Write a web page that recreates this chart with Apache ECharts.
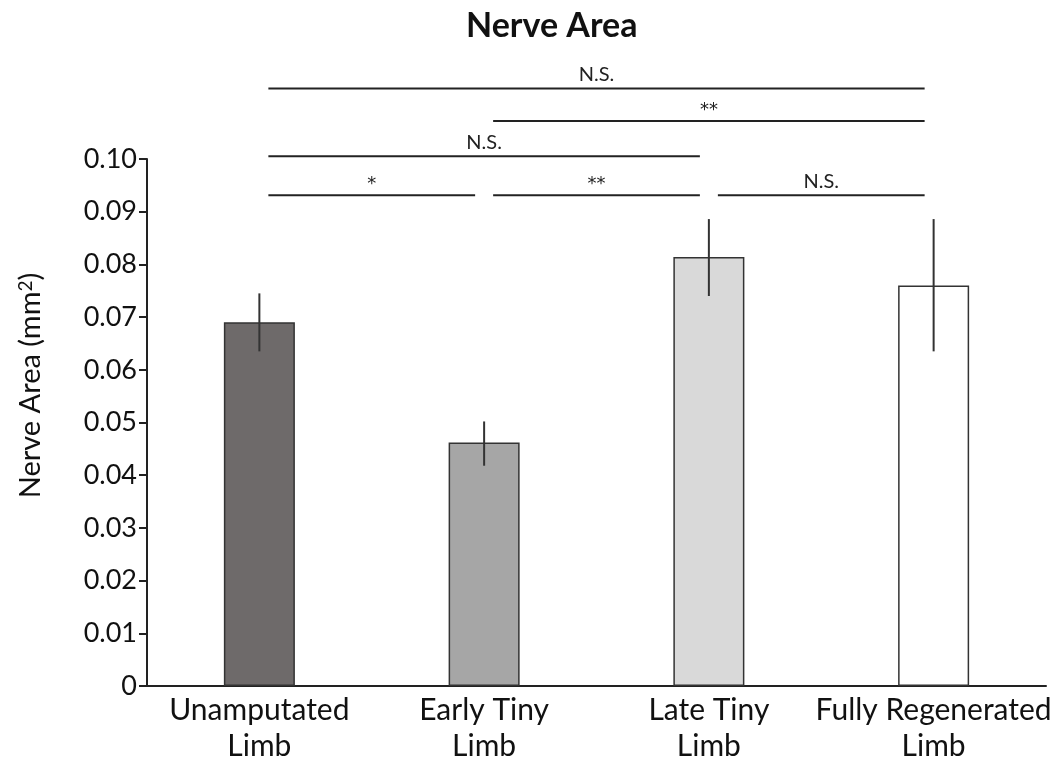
<!DOCTYPE html>
<html>
<head>
<meta charset="utf-8">
<script src="https://cdn.jsdelivr.net/npm/echarts@6/dist/echarts.min.js"></script>
<style>html,body{margin:0;padding:0;background:#fff;}#c{width:1059px;height:766px;}</style>
</head>
<body>
<div id="c"></div>
<script>
const categories = ['Unamputated\nLimb', 'Early Tiny\nLimb', 'Late Tiny\nLimb', 'Fully Regenerated\nLimb'];
const means = [0.069, 0.0462, 0.0814, 0.0760];
const errLow = [0.0635, 0.0418, 0.0740, 0.0635];
const errHigh = [0.0745, 0.0502, 0.0886, 0.0886];
const barColors = ['#6e6a6a', '#a6a6a6', '#d9d9d9', '#ffffff'];
// significance brackets: [from category, to category, height, label]
const sigFrom = [0, 1, 0, 0, 1, 2];
const sigTo = [3, 3, 2, 1, 2, 3];
const sigY = [0.1134, 0.1072, 0.1005, 0.0931, 0.0931, 0.0931];
const sigLabels = ['N.S.', '**', 'N.S.', '*', '**', 'N.S.'];
const yTicks = ['0', '0.01', '0.02', '0.03', '0.04', '0.05', '0.06', '0.07', '0.08', '0.09', '0.10'];

const FONT = 'Lato';
const chart = echarts.init(document.getElementById('c'));
chart.setOption({
  animation: false,
  backgroundColor: '#fff',
  title: {
    text: 'Nerve Area', left: 461, top: 4,
    textStyle: { fontFamily: FONT, fontWeight: 'bold', fontSize: 34, color: '#111' }
  },
  grid: { left: 147, right: 13, top: 159, bottom: 80 },
  xAxis: {
    type: 'category', data: categories,
    axisLine: { lineStyle: { color: '#222', width: 2 } },
    axisTick: { show: false },
    axisLabel: { fontFamily: FONT, fontSize: 30, color: '#111', lineHeight: 36, margin: 6, interval: 0 }
  },
  yAxis: {
    type: 'value', min: 0, max: 0.1, interval: 0.01,
    name: '{a|Nerve Area (mm}{s|2}{a|)}', nameLocation: 'middle', nameGap: 102,
    nameTextStyle: {
      padding: [0, 0, 0, 74],
      rich: {
        a: { fontFamily: FONT, fontSize: 29, color: '#111' },
        s: { fontFamily: FONT, fontSize: 19, color: '#111', verticalAlign: 'top', padding: [0, 0, 10, 0] }
      }
    },
    axisLine: { show: true, lineStyle: { color: '#222', width: 2 } },
    axisTick: { show: true, length: 8, lineStyle: { color: '#222', width: 2 } },
    splitLine: { show: false },
    axisLabel: {
      fontFamily: FONT, fontSize: 27, color: '#111', margin: 10,
      formatter: v => yTicks[Math.round(v * 100)]
    }
  },
  series: [
    {
      type: 'bar', barWidth: '31.6%',
      data: means.map((v, i) => ({ value: v, itemStyle: { color: barColors[i] } })),
      itemStyle: { borderColor: '#333', borderWidth: 1.5 }
    },
    {
      type: 'custom', z: 5,
      data: means.map((v, i) => [i, errLow[i], errHigh[i]]),
      renderItem: (params, api) => {
        const lo = api.coord([api.value(0), api.value(1)]);
        const hi = api.coord([api.value(0), api.value(2)]);
        return { type: 'line', shape: { x1: lo[0], y1: lo[1], x2: hi[0], y2: hi[1] },
          style: { stroke: '#333', lineWidth: 2 } };
      }
    },
    {
      type: 'custom', clip: false, z: 5,
      data: sigFrom.map((f, i) => [f, sigTo[i], sigY[i], sigLabels[i]]),
      renderItem: (params, api) => {
        const a = api.coord([api.value(0), api.value(2)]);
        const b = api.coord([api.value(1), api.value(2)]);
        const gap = 9;
        const x1 = a[0] + gap, x2 = b[0] - gap;
        const lab = sigLabels[params.dataIndex];
        const star = lab.indexOf('*') >= 0;
        return { type: 'group', children: [
          { type: 'line', shape: { x1: x1, y1: a[1], x2: x2, y2: a[1] }, style: { stroke: '#222', lineWidth: 2 } },
          { type: 'text', style: { text: lab, x: (x1 + x2) / 2, y: a[1] - (star ? 2 : 4),
            align: 'center', verticalAlign: 'bottom', fontFamily: star ? 'DejaVu Sans' : FONT,
            fontSize: star ? 18 : 20, fill: '#222' } }
        ] };
      }
    }
  ]
});
</script>
</body>
</html>
